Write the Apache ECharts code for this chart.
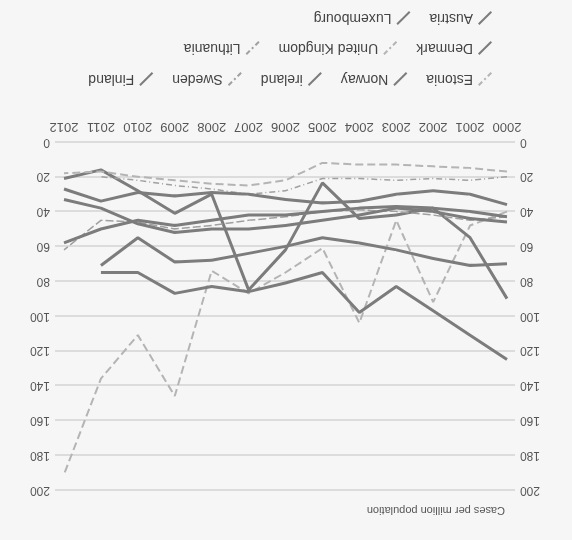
<!DOCTYPE html>
<html>
<head>
<meta charset="utf-8">
<script src="https://cdn.jsdelivr.net/npm/echarts@6/dist/echarts.min.js"></script>
<style>
html,body{margin:0;padding:0;background:#f6f6f6;}
#c{width:572px;height:540px;transform:rotate(180deg);}
</style>
</head>
<body>
<div id="c"></div>
<script>
const years = [2000,2001,2002,2003,2004,2005,2006,2007,2008,2009,2010,2011,2012];
const yTicks = [0,20,40,60,80,100,120,140,160,180,200];
const estonia    = [40, 48, 92, 45, 104, 61, 75, 87, 74, 146, 111, 136, 191];
const norway     = [90, 55, 38, 42, 44, 23.5, 62, 85, 30, 41, 28, 16, 21];
const ireland    = [125, 111, 97, 83, 98, 75, 81, 86, 83, 87, 75, 75, null];
const sweden     = [20, 22, 21, 22, 21, 21, 28, 30, 27, 25, 22, 20, null];
const finland    = [70, 71, 67, 62, 58, 55, 60, 64, 68, 69, 55, 71, null];
const denmark    = [36, 30, 28, 30, 34, 35, 33, 30, 29, 31, 29, 34, 27];
const uk         = [17, 15, 14, 13, 13, 12, 22, 25, 24, 22, 20, 17, 18];
const lithuania  = [43, 45, 42, 40, 39, 40, 43, 45, 48, 50, 46, 45, 62];
const austria    = [46, 44, 40, 38, 42, 45, 48, 50, 50, 52, 47, 38, 33];
const luxembourg = [43, 40, 38, 37, 38, 40, 42, 42, 45, 48, 45, 50, 58];

const SOLID = '#7c7c7c', LIGHT = '#b4b4b4';
const slash = 'path://M0,18 L2,20 L20,2 L18,0 Z';
const dashSlash = 'path://M0,18 L2,20 L7,15 L5,13 Z M8,10 L10,12 L12,10 L10,8 Z M13,5 L15,7 L20,2 L18,0 Z';

const defs = [
  {name:'Estonia', data:estonia, color:LIGHT, type:'dashed', w:2, icon:dashSlash},
  {name:'Norway', data:norway, color:SOLID, type:'solid', w:3, icon:slash},
  {name:'ireland', data:ireland, color:SOLID, type:'solid', w:3, icon:slash},
  {name:'Sweden', data:sweden, color:'#a0a0a0', type:[6,3,1,3], w:1.5, icon:dashSlash},
  {name:'Finland', data:finland, color:SOLID, type:'solid', w:3, icon:slash},
  {name:'Denmark', data:denmark, color:SOLID, type:'solid', w:3, icon:slash},
  {name:'United Kingdom', data:uk, color:LIGHT, type:'dashed', w:2, icon:dashSlash},
  {name:'Lithuania', data:lithuania, color:'#a0a0a0', type:[8,3], w:1.5, icon:dashSlash},
  {name:'Austria', data:austria, color:SOLID, type:'solid', w:3, icon:slash},
  {name:'Luxembourg', data:luxembourg, color:SOLID, type:'solid', w:3, icon:slash}
];

const series = defs.map(d => ({
  name: d.name, type: 'line', symbol: 'none', connectNulls: false,
  color: d.color,
  lineStyle: {width: d.w, type: d.type, color: d.color},
  data: years.map((y,i) => [y, d.data[i]])
}));

function legend(names, top){
  return {
    left: 75, top: top, orient: 'horizontal', itemGap: 19,
    itemWidth: 14, itemHeight: 14,
    textStyle: {color:'#444', fontSize: 14, fontFamily: 'Liberation Sans'},
    data: names.map(n => ({name:n, icon: defs.find(d=>d.name===n).icon}))
  };
}

const chart = echarts.init(document.getElementById('c'));
const axisLabel = {color:'#555', fontSize: 12, fontFamily:'Liberation Sans'};
chart.setOption({
  backgroundColor: '#f6f6f6',
  animation: false,
  title: {text:'Cases per million population', left: 67, top: 24, padding: 0,
    textStyle:{fontSize:11, fontWeight:'normal', color:'#555', fontFamily:'Liberation Sans'}},
  legend: [
    legend(['Estonia','Norway','ireland','Sweden','Finland'], 449),
    legend(['Denmark','United Kingdom','Lithuania'], 480),
    legend(['Austria','Luxembourg'], 510)
  ],
  grid: {left: 57, right: 55, top: 50, bottom: 142},
  xAxis: {
    type: 'value', min: 1999.783, max: 2012.244,
    axisLine: {show:false}, splitLine: {show:false},
    axisTick: {show:false, customValues: years},
    axisLabel: Object.assign({}, axisLabel, {customValues: years, margin: 9, fontSize: 13,
      formatter: v => String(Math.round(v))})
  },
  yAxis: [
    {type:'value', min:0, max:200, interval:20, position:'left',
     axisLine:{show:false}, axisTick:{show:false},
     axisLabel: Object.assign({margin:5}, axisLabel),
     splitLine:{lineStyle:{color:'#dcdcdc', width:2}}},
    {type:'value', min:0, max:200, interval:20, position:'right',
     axisLine:{show:false}, axisTick:{show:false},
     axisLabel: Object.assign({margin:5}, axisLabel),
     splitLine:{show:false}}
  ],
  series: series
});
</script>
</body>
</html>
